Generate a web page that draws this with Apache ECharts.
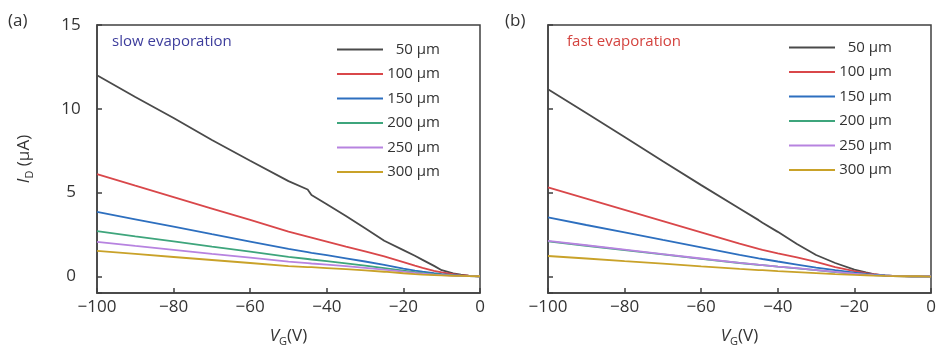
<!DOCTYPE html>
<html>
<head>
<meta charset="utf-8">
<title>I_D vs V_G</title>
<script src="https://cdn.jsdelivr.net/npm/echarts@6/dist/echarts.min.js"></script>
<style>
  html, body { margin: 0; padding: 0; background: #fff; }
  #chart { width: 939px; height: 353px; }
</style>
</head>
<body>
<div id="chart"></div>
<script>
// gate voltage samples (V), shared by every curve
const vg = [-100, -90, -80, -70, -60, -50, -45, -44, -40, -35, -30, -25, -20, -17, -15, -12, -10, -7, -5, -3, 0];

const channelNames = ['50 μm', '100 μm', '150 μm', '200 μm', '250 μm', '300 μm'];
const lineColors = ['#4a4a4a', '#d9474a', '#2d6fbf', '#3ea57c', '#b783e0', '#c9a229'];

// (a) slow evaporation, I_D in μA
const slow50 = [12.0, 10.7, 9.45, 8.13, 6.9, 5.68, 5.18, 4.85, 4.3, 3.6, 2.86, 2.12, 1.56, 1.22, 0.98, 0.62, 0.36, 0.17, 0.09, 0.03, 0];
const slow100 = [6.1, 5.41, 4.73, 4.04, 3.36, 2.67, 2.37, 2.31, 2.07, 1.77, 1.48, 1.18, 0.84, 0.63, 0.5, 0.32, 0.23, 0.12, 0.07, 0.03, 0];
const slow150 = [3.84, 3.4, 2.96, 2.51, 2.07, 1.63, 1.44, 1.4, 1.26, 1.07, 0.88, 0.68, 0.46, 0.34, 0.27, 0.18, 0.13, 0.07, 0.04, 0.02, 0];
const slow200 = [2.69, 2.38, 2.08, 1.77, 1.47, 1.16, 1.03, 1.0, 0.9, 0.77, 0.63, 0.49, 0.34, 0.25, 0.2, 0.13, 0.09, 0.05, 0.03, 0.01, 0];
const slow250 = [2.05, 1.81, 1.58, 1.34, 1.11, 0.87, 0.78, 0.76, 0.69, 0.6, 0.5, 0.39, 0.27, 0.2, 0.16, 0.1, 0.07, 0.04, 0.02, 0.01, 0];
const slow300 = [1.51, 1.33, 1.15, 0.97, 0.79, 0.61, 0.55, 0.54, 0.49, 0.42, 0.35, 0.27, 0.18, 0.13, 0.1, 0.07, 0.05, 0.03, 0.02, 0.01, 0];

// (b) fast evaporation, I_D in μA
const fast50 = [11.16, 9.74, 8.32, 6.86, 5.44, 4.05, 3.35, 3.2, 2.65, 1.92, 1.27, 0.79, 0.4, 0.23, 0.13, 0.04, 0.01, 0, 0, 0, 0];
const fast100 = [5.3, 4.63, 3.96, 3.29, 2.62, 1.95, 1.63, 1.57, 1.37, 1.13, 0.86, 0.55, 0.3, 0.18, 0.12, 0.05, 0.02, 0.01, 0, 0, 0];
const fast150 = [3.51, 3.06, 2.62, 2.17, 1.73, 1.28, 1.07, 1.03, 0.88, 0.7, 0.52, 0.36, 0.22, 0.14, 0.1, 0.05, 0.02, 0.01, 0, 0, 0];
const fast200 = [2.08, 1.82, 1.56, 1.3, 1.04, 0.79, 0.68, 0.66, 0.57, 0.47, 0.36, 0.25, 0.15, 0.1, 0.07, 0.04, 0.02, 0.01, 0, 0, 0];
const fast250 = [2.11, 1.85, 1.59, 1.32, 1.06, 0.8, 0.69, 0.67, 0.58, 0.48, 0.37, 0.26, 0.15, 0.1, 0.07, 0.04, 0.02, 0.01, 0, 0, 0];
const fast300 = [1.21, 1.06, 0.9, 0.75, 0.59, 0.44, 0.37, 0.36, 0.3, 0.25, 0.19, 0.13, 0.08, 0.06, 0.04, 0.02, 0.01, 0, 0, 0, -0.02];

// y tick labels that are printed (the -1 floor gets no label)
const yTickLabels = [0, 5, 10, 15];

const slowSets = [slow50, slow100, slow150, slow200, slow250, slow300];
const fastSets = [fast50, fast100, fast150, fast200, fast250, fast300];

const font = '"Open Sans", "Noto Sans", sans-serif';
const ink = '#333';
const frame = '#404040';

function toPairs(values) {
	return vg.map(function (v, i) {
		return [v, values[i]];
	});
}

function makeSeries(sets, axisIndex) {
	return sets.map(function (values, i) {
		return {
			name: channelNames[i],
			type: 'line',
			xAxisIndex: axisIndex,
			yAxisIndex: axisIndex,
			symbol: 'none',
			smooth: false,
			color: lineColors[i],
			lineStyle: { width: 1.8, color: lineColors[i] },
			data: toPairs(values)
		};
	});
}

const nameRich = {
	i: { fontSize: 17, fontStyle: 'italic', fontFamily: font, color: ink, lineHeight: 22 },
	s: { fontSize: 11, fontFamily: font, color: ink, verticalAlign: 'bottom', lineHeight: 12 },
	n: { fontSize: 17, fontFamily: font, color: ink, lineHeight: 22 }
};

function makeXAxis(gridIndex) {
	return {
		gridIndex: gridIndex,
		type: 'value',
		position: 'bottom',
		min: -100,
		max: 0,
		interval: 20,
		axisLine: { show: true, onZero: false, lineStyle: { color: frame, width: 1.5 } },
		axisTick: { show: true, inside: true, length: 5, lineStyle: { color: frame, width: 1.5 } },
		axisLabel: {
			margin: 6,
			fontSize: 17,
			fontFamily: font,
			color: ink,
			formatter: function (v) {
				return v < 0 ? '\u2212' + Math.abs(v) : String(v);
			}
		},
		splitLine: { show: false },
		name: '{i|V}{s|G}{n|(V)}',
		nameLocation: 'middle',
		nameGap: 32,
		nameTextStyle: { rich: nameRich }
	};
}

function makeYAxis(gridIndex, withLabels) {
	const axis = {
		gridIndex: gridIndex,
		type: 'value',
		position: 'left',
		min: -1,
		max: 15,
		splitNumber: 3,
		axisLine: { show: true, onZero: false, lineStyle: { color: frame, width: 1.5 } },
		axisTick: { show: true, inside: true, length: 5, lineStyle: { color: frame, width: 1.5 } },
		axisLabel: {
			show: withLabels,
			align: 'center',
			margin: 26,
			fontSize: 17,
			fontFamily: font,
			color: ink,
			formatter: function (v) {
				return yTickLabels.indexOf(v) >= 0 ? String(v) : '';
			}
		},
		splitLine: { show: false }
	};
	if (withLabels) {
		axis.name = '{i|I}{s|D}{n| (μA)}';
		axis.nameLocation = 'middle';
		axis.nameGap = 62;
		axis.nameTextStyle = { rich: nameRich };
	}
	return axis;
}

function makeLegend(left, top) {
	return {
		left: left,
		top: top,
		padding: 0,
		orient: 'vertical',
		itemWidth: 46,
		itemHeight: 14,
		itemGap: 9.5,
		data: channelNames,
		itemStyle: { opacity: 0 },
		formatter: function (name) {
			return '{t|' + name + '}';
		},
		textStyle: {
			rich: {
				t: { width: 52, align: 'right', fontSize: 15, fontFamily: font, color: ink, lineHeight: 15 }
			}
		}
	};
}

const chart = echarts.init(document.getElementById('chart'), null, { renderer: 'canvas' });

const plainTitle = { fontSize: 17, fontWeight: 'normal', fontFamily: font, color: ink };

const option = {
	animation: false,
	backgroundColor: '#fff',
	title: [
		{ text: '(a)', left: 8, top: 13, padding: 0, textStyle: plainTitle },
		{ text: '(b)', left: 505, top: 13, padding: 0, textStyle: plainTitle },
		{ text: 'slow evaporation', left: 112, top: 34, padding: 0, textStyle: { fontSize: 15, fontWeight: 'normal', fontFamily: font, color: '#3d3d9c' } },
		{ text: 'fast evaporation', left: 567, top: 34, padding: 0, textStyle: { fontSize: 15, fontWeight: 'normal', fontFamily: font, color: '#d4433f' } }
	],
	legend: [makeLegend(336, 42), makeLegend(788, 40)],
	grid: [
		{ left: 97, top: 25, width: 383, height: 268, show: true, borderColor: frame, borderWidth: 1.5 },
		{ left: 548, top: 25, width: 383, height: 268, show: true, borderColor: frame, borderWidth: 1.5 }
	],
	xAxis: [makeXAxis(0), makeXAxis(1)],
	yAxis: [makeYAxis(0, true), makeYAxis(1, false)],
	series: makeSeries(slowSets, 0).concat(makeSeries(fastSets, 1))
};

chart.setOption(option);
</script>
</body>
</html>
